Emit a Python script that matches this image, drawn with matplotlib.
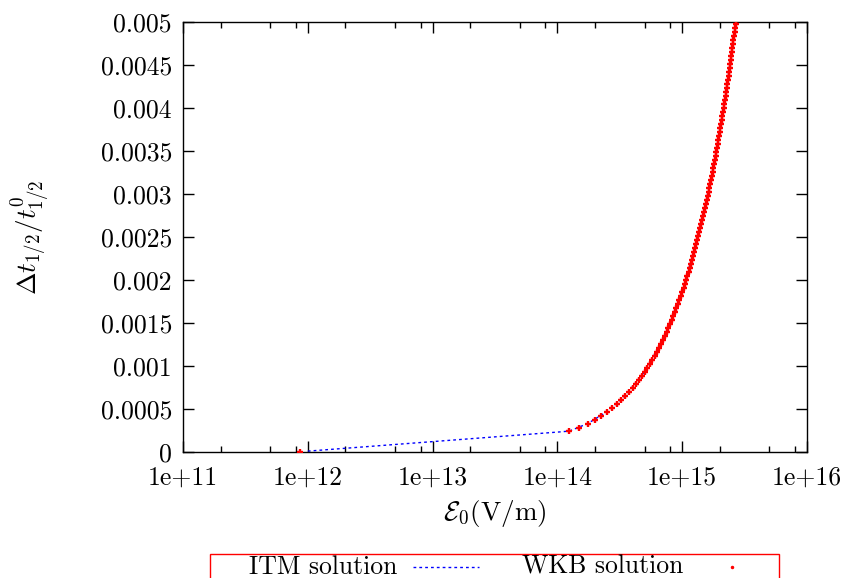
import matplotlib
matplotlib.use("Agg")
import matplotlib.pyplot as plt
from matplotlib.lines import Line2D
from matplotlib.patches import Rectangle
from matplotlib.ticker import FixedLocator, NullFormatter

plt.rcParams["font.family"] = "cmr10"
plt.rcParams["mathtext.fontset"] = "cm"
plt.rcParams["axes.formatter.use_mathtext"] = True

# ITM solution (field strength in V/m, relative shift of the half-life)
itm_field = [1.0e12, 1.1e14, 1.25e14, 1.75e14, 2.5e14, 3.5e14, 5.0e14,
             7.0e14, 1.0e15, 1.4e15, 1.8e15, 2.2e15, 2.7e15]
itm_shift = [0.00001, 0.000236, 0.000244, 0.000331, 0.000470, 0.000656,
             0.000935, 0.001307, 0.001865, 0.002609, 0.003353, 0.004097,
             0.005027]

# WKB solution, field strength in units of 1e14 V/m
wkb_field_e14 = [0.0087,
    1.25, 1.50, 1.75, 2.00, 2.25, 2.50, 2.75, 3.00, 3.25, 3.50, 3.75, 4.00,
    4.25, 4.50, 4.75, 5.00, 5.25, 5.50, 5.75, 6.00, 6.25, 6.50, 6.75, 7.00,
    7.25, 7.50, 7.75, 8.00, 8.25, 8.50, 8.75, 9.00, 9.25, 9.50, 9.75, 10.00,
    10.25, 10.50, 10.75, 11.00, 11.25, 11.50, 11.75, 12.00, 12.25, 12.50,
    12.75, 13.00, 13.25, 13.50, 13.75, 14.00, 14.25, 14.50, 14.75, 15.00,
    15.25, 15.50, 15.75, 16.00, 16.25, 16.50, 16.75, 17.00, 17.25, 17.50,
    17.75, 18.00, 18.25, 18.50, 18.75, 19.00, 19.25, 19.50, 19.75, 20.00,
    20.25, 20.50, 20.75, 21.00, 21.25, 21.50, 21.75, 22.00, 22.25, 22.50,
    22.75, 23.00, 23.25, 23.50, 23.75, 24.00, 24.25, 24.50, 24.75, 25.00,
    25.25, 25.50, 25.75, 26.00, 26.25, 26.50, 26.75, 27.00]
# WKB shift in units of 1e-3
wkb_shift_e3 = [0.0,
    0.244, 0.284, 0.331, 0.377, 0.424, 0.470, 0.517, 0.563, 0.610, 0.656,
    0.703, 0.749, 0.796, 0.842, 0.889, 0.935, 0.982, 1.028, 1.075, 1.121,
    1.168, 1.214, 1.261, 1.307, 1.354, 1.400, 1.447, 1.493, 1.540, 1.586,
    1.633, 1.679, 1.726, 1.772, 1.819, 1.865, 1.912, 1.958, 2.005, 2.051,
    2.098, 2.144, 2.191, 2.237, 2.284, 2.330, 2.377, 2.423, 2.470, 2.516,
    2.563, 2.609, 2.656, 2.702, 2.749, 2.795, 2.842, 2.888, 2.935, 2.981,
    3.028, 3.074, 3.121, 3.167, 3.214, 3.260, 3.307, 3.353, 3.400, 3.446,
    3.493, 3.539, 3.586, 3.632, 3.679, 3.725, 3.772, 3.818, 3.865, 3.911,
    3.958, 4.004, 4.051, 4.097, 4.144, 4.190, 4.237, 4.283, 4.330, 4.376,
    4.423, 4.469, 4.516, 4.562, 4.609, 4.655, 4.702, 4.748, 4.795, 4.841,
    4.888, 4.934, 4.981, 5.027]

x_ticks = [1e11, 1e12, 1e13, 1e14, 1e15, 1e16]
x_tick_labels = ["1e+11", "1e+12", "1e+13", "1e+14", "1e+15", "1e+16"]
y_ticks = [0, 0.0005, 0.001, 0.0015, 0.002, 0.0025, 0.003, 0.0035, 0.004,
           0.0045, 0.005]
y_tick_labels = ["0", "0.0005", "0.001", "0.0015", "0.002", "0.0025",
                 "0.003", "0.0035", "0.004", "0.0045", "0.005"]
series_labels = ["ITM solution", "WKB solution"]

wkb_field = [v * 1e14 for v in wkb_field_e14]
wkb_shift = [v * 1e-3 for v in wkb_shift_e3]

W, H = 849, 578
FS = 18.5
fig = plt.figure(figsize=(W / 100, H / 100), dpi=100)
ax = fig.add_axes([183 / W, 1 - 452 / H, (807 - 183) / W, (452 - 22) / H])

itm_style = dict(color="blue", lw=1.0, linestyle=(0, (2, 2.2)))
itm_line, = ax.plot(itm_field, itm_shift, zorder=2, **itm_style)
wkb_pts, = ax.plot(wkb_field, wkb_shift, linestyle="none", marker="+",
                   markersize=5, markeredgewidth=1.7, color="red", zorder=3)

ax.set_xscale("log")
ax.set_xlim(1e11, 1e16)
ax.set_ylim(0, 0.005)

ax.xaxis.set_major_locator(FixedLocator(x_ticks))
ax.set_xticklabels(x_tick_labels)
minor = [m * 10 ** e for e in range(11, 16) for m in (2, 5, 8)]
ax.xaxis.set_minor_locator(FixedLocator(minor))
ax.xaxis.set_minor_formatter(NullFormatter())
ax.yaxis.set_major_locator(FixedLocator(y_ticks))
ax.set_yticklabels(y_tick_labels)

ax.tick_params(which="both", direction="in", top=True, right=True,
               labelsize=FS, width=1.0, color="black")
ax.tick_params(which="major", length=8)
ax.tick_params(which="minor", length=4)
ax.tick_params(axis="x", pad=10)
ax.tick_params(axis="y", pad=8)
for s in ax.spines.values():
    s.set_linewidth(1.0)

ax.set_xlabel(r"$\mathcal{E}_0(\mathrm{V/m})$", fontsize=19.5)
ax.xaxis.set_label_coords(0.5, (452 - 498) / 430)
ax.set_ylabel(r"$\Delta t_{1/2}/t^0_{1/2}$", fontsize=19.5)
ax.yaxis.set_label_coords((52 - 183) / 624, 0.5)

# key below the plot, partly cut by the lower edge of the figure
def fx(px):
    return px / W


def fy(py):
    return 1 - py / H


fig.patches.append(Rectangle((fx(210), fy(620)), fx(779) - fx(210),
                             fy(554) - fy(620), transform=fig.transFigure,
                             fill=False, edgecolor="red", lw=1.0))
fig.text(fx(397), fy(573.5), series_labels[0], ha="right", va="baseline",
         fontsize=FS)
fig.text(fx(683), fy(573.5), series_labels[1], ha="right", va="baseline",
         fontsize=FS)
fig.lines.append(Line2D([fx(413), fx(479)], [fy(567), fy(567)],
                        transform=fig.transFigure, **itm_style))
fig.lines.append(Line2D([fx(732)], [fy(567)], transform=fig.transFigure,
                        linestyle="none", marker=".", markersize=3,
                        color="red"))

fig.savefig("out.png", dpi=100)
